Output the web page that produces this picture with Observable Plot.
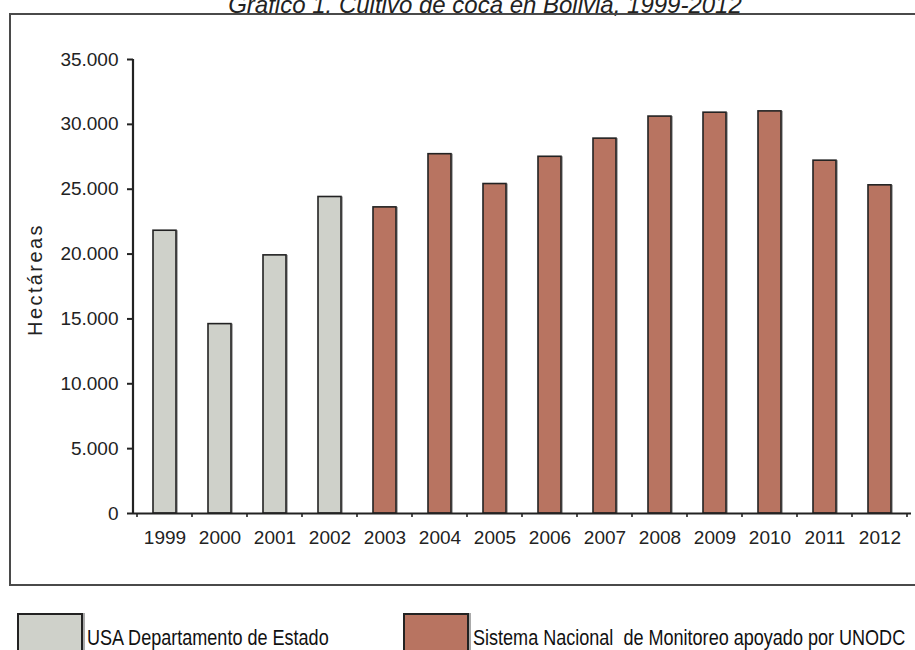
<!DOCTYPE html>
<html>
<head>
<meta charset="utf-8">
<script src="https://cdn.jsdelivr.net/npm/d3@7"></script>
<script src="https://cdn.jsdelivr.net/npm/@observablehq/plot@0.6"></script>
<style>
  html, body { margin: 0; padding: 0; background: #fff; }
  body { width: 915px; height: 650px; overflow: hidden; position: relative; font-family: "Liberation Sans", Arial, sans-serif; color: #222; }
  #title { position: absolute; left: 485px; top: -7px; transform: translateX(-50%); white-space: nowrap; font-style: italic; font-size: 24px; line-height: 24px; color: #222; }
  #frame { position: absolute; left: 9px; top: 13px; width: 930px; height: 569px; border: 2px solid #4a4a4a; }
  #chart { position: absolute; left: 0; top: 0; }
  .sw { position: absolute; top: 613px; width: 62px; height: 50px; border: 2px solid #222; box-shadow: 2px 0 0 #aaa; }
  .lt { position: absolute; top: 627px; white-space: pre; font-size: 22px; line-height: 22px; transform: scaleX(0.82); transform-origin: left center; color: #111; }
</style>
</head>
<body>
<div id="title"></div>
<div id="frame"></div>
<div id="chart"></div>
<div id="legend"></div>
<script>
const titulo = "Gráfico 1. Cultivo de coca en Bolivia, 1999-2012";
const years = ["1999","2000","2001","2002","2003","2004","2005","2006","2007","2008","2009","2010","2011","2012"];
const hectareas = [21800, 14600, 19900, 24400, 23600, 27700, 25400, 27500, 28900, 30600, 30900, 31000, 27200, 25300];
const fuenteIdx = [0,0,0,0,1,1,1,1,1,1,1,1,1,1];
const seriesNames = ["USA Departamento de Estado", "Sistema Nacional  de Monitoreo apoyado por UNODC"];
const seriesColors = ["#cfd1ca", "#b87461"];
const yTicks = [0, 5000, 10000, 15000, 20000, 25000, 30000, 35000];
const yLabel = "Hectáreas";

document.getElementById("title").textContent = titulo;

const data = years.map((y, i) => ({year: y, value: hectareas[i], serie: seriesNames[fuenteIdx[i]]}));
const fmt = d => d3.format(",")(d).replace(/,/g, ".");

const chart = Plot.plot({
  width: 915,
  height: 590,
  marginLeft: 133,
  marginRight: 4,
  marginTop: 59,
  marginBottom: 77,
  style: {fontFamily: "'Liberation Sans', Arial, sans-serif", fontSize: "19px", color: "#222", background: "transparent", overflow: "visible"},
  x: {domain: years, paddingInner: 0.58, paddingOuter: 0.29, label: null},
  y: {domain: [0, 35000], label: null},
  color: {domain: seriesNames, range: seriesColors},
  marks: [
    Plot.barY(data, {x: "year", y: "value", fill: "#b0b0b0", dx: 2}),
    Plot.barY(data, {x: "year", y: "value", fill: "serie", stroke: "#222", strokeWidth: 1.6}),
    Plot.ruleY([0], {stroke: "#222", strokeWidth: 2.2}),
    Plot.axisY(yTicks, {tickFormat: fmt, tickSize: 6, tickPadding: 9, stroke: "#222", strokeWidth: 2, label: null}),
    Plot.axisX({tickSize: 0, tickPadding: 17, label: null}),
    Plot.text([yLabel], {frameAnchor: "left", textAnchor: "middle", rotate: -90, dx: -98, dy: -7, fontSize: 20, fill: "#222"})
  ]
});

document.getElementById("chart").appendChild(chart);

// y-axis line and x boundary ticks from the plot's scales
const xs = chart.scale("x");
const ys = chart.scale("y");
const svg = d3.select(chart);
const y0 = ys.apply(0);
const yTop = ys.apply(35000);
const x0 = xs.range[0];
const g = svg.append("g").attr("stroke", "#222");
g.append("line").attr("x1", x0).attr("x2", x0).attr("y1", y0 + 1).attr("y2", yTop).attr("stroke-width", 2.2);
const step = xs.step != null ? xs.step : (xs.range[1] - xs.range[0]) / years.length;
const bw = xs.bandwidth != null ? xs.bandwidth : step * 0.42;
const bounds = years.map(y => xs.apply(y) + bw / 2 - step / 2);
bounds.push(xs.apply(years[years.length - 1]) + bw / 2 + step / 2);
bounds.forEach(b => g.append("line").attr("x1", b).attr("x2", b).attr("y1", y0).attr("y2", y0 + 4).attr("stroke-width", 1.6));

svg.selectAll("text").filter(function() { return this.textContent === yLabel; }).attr("letter-spacing", "2.4px");

// legend
const legend = document.getElementById("legend");
const swLeft = [17, 403];
const txLeft = [87, 473];
seriesNames.forEach((name, i) => {
  const sw = document.createElement("div");
  sw.className = "sw";
  sw.style.left = swLeft[i] + "px";
  sw.style.background = seriesColors[i];
  legend.appendChild(sw);
  const t = document.createElement("div");
  t.className = "lt";
  t.style.left = txLeft[i] + "px";
  t.textContent = name;
  legend.appendChild(t);
});
</script>
</body>
</html>
